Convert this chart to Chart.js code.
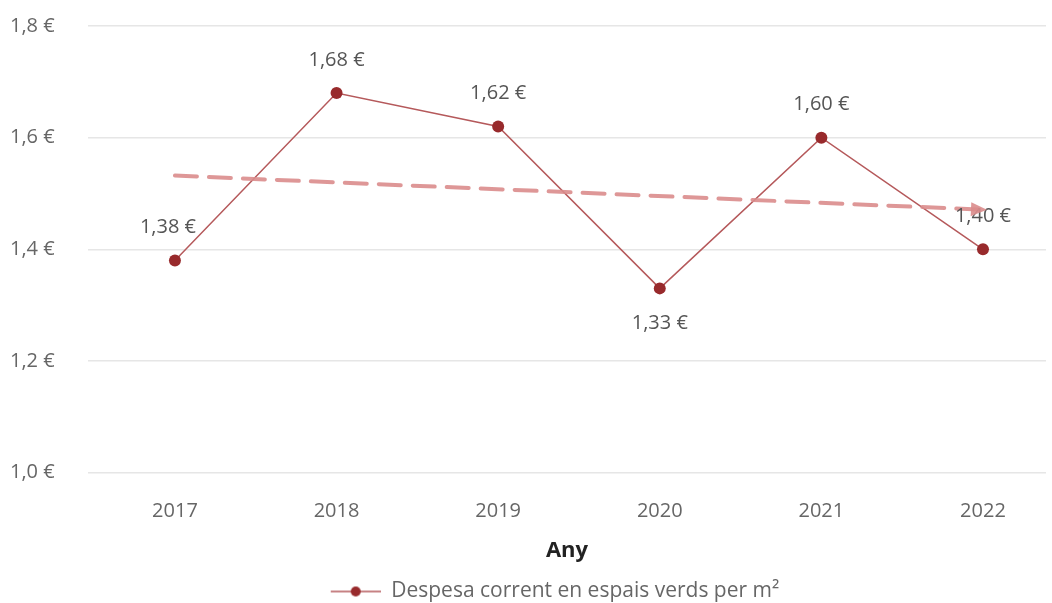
<!DOCTYPE html>
<html>
<head>
<meta charset="utf-8">
<script src="https://cdn.jsdelivr.net/npm/chart.js@4/dist/chart.umd.min.js"></script>
<style>
  html, body { margin: 0; padding: 0; background: #fff; overflow: hidden; }
  canvas { display: block; }
</style>
</head>
<body>
<canvas id="chart" width="1052" height="603"></canvas>
<script>
const years = [2017, 2018, 2019, 2020, 2021, 2022];
const spend = [1.38, 1.68, 1.62, 1.33, 1.60, 1.40];
const trendEnds = [1.532, 1.471];
const yTicks = [1.0, 1.2, 1.4, 1.6, 1.8];
const seriesName = 'Despesa corrent en espais verds per m²';

const lineColor = '#b5595b';
const pointColor = '#982a2c';
const trendColor = 'rgba(218, 140, 140, 0.9)';
const font = '"Open Sans", "Noto Sans", sans-serif';

function euro(v, d) {
  return v.toFixed(d).replace('.', ',') + ' €';
}

// legend marker: line with a dot (left part left blank to shift the item right)
const marker = document.createElement('canvas');
marker.width = 98; marker.height = 12;
(function () {
  const c = marker.getContext('2d');
  c.strokeStyle = lineColor; c.lineWidth = 1.5;
  c.beginPath(); c.moveTo(48, 6); c.lineTo(98, 6); c.stroke();
  c.fillStyle = pointColor;
  c.beginPath(); c.arc(73, 6, 5, 0, Math.PI * 2); c.fill();
})();

const labelPlugin = {
  id: 'valueLabels',
  afterDatasetsDraw(chart) {
    const ctx = chart.ctx;
    const meta = chart.getDatasetMeta(1);
    const minVal = Math.min(...spend);
    ctx.save();
    ctx.font = '20px ' + font;
    ctx.fillStyle = '#555';
    ctx.textAlign = 'center';
    ctx.textBaseline = 'middle';
    meta.data.forEach((pt, i) => {
      const below = spend[i] === minVal;
      ctx.fillText(euro(spend[i], 2), pt.x - (i === 0 ? 7 : 0), below ? pt.y + 35 : pt.y - 33);
    });
    ctx.restore();
  }
};

const arrowPlugin = {
  id: 'trendArrow',
  afterDatasetsDraw(chart) {
    const meta = chart.getDatasetMeta(0);
    const a = meta.data[0], b = meta.data[meta.data.length - 1];
    const ang = Math.atan2(b.y - a.y, b.x - a.x);
    const ctx = chart.ctx;
    ctx.save();
    ctx.translate(b.x, b.y);
    ctx.rotate(ang);
    ctx.fillStyle = trendColor;
    ctx.beginPath();
    ctx.moveTo(4, 0);
    ctx.lineTo(-12, -7);
    ctx.lineTo(-12, 7);
    ctx.closePath();
    ctx.fill();
    ctx.restore();
  }
};

function noSidePadding(s) {
  s.paddingLeft = 0;
  s.paddingRight = 0;
}

new Chart(document.getElementById('chart'), {
  type: 'line',
  data: {
    datasets: [
      {
        label: 'trend',
        data: [{ x: years[0], y: trendEnds[0] }, { x: years[years.length - 1], y: trendEnds[1] }],
        borderColor: trendColor,
        borderWidth: 4,
        borderDash: [22, 12],
        borderCapStyle: 'round',
        pointRadius: 0,
        fill: false
      },
      {
        label: seriesName,
        data: years.map((y, i) => ({ x: y, y: spend[i] })),
        borderColor: lineColor,
        borderWidth: 1.5,
        pointRadius: 6,
        pointBackgroundColor: pointColor,
        pointBorderWidth: 0,
        fill: false,
        tension: 0
      }
    ]
  },
  options: {
    responsive: false,
    animation: false,
    layout: { padding: { left: 10, right: 0, top: 26, bottom: -9 } },
    plugins: {
      tooltip: { enabled: false },
      legend: {
        position: 'bottom',
        labels: {
          filter: item => item.datasetIndex === 1,
          usePointStyle: true,
          pointStyle: marker,
          pointStyleWidth: 98,
          color: '#666',
          font: { family: font, size: 21 },
          padding: 2
        }
      }
    },
    scales: {
      x: {
        type: 'linear',
        min: 2016.462,
        max: 2022.39,
        afterBuildTicks: s => { s.ticks = years.map(v => ({ value: v })); },
        afterFit: noSidePadding,
        grid: { display: false, tickLength: 20 },
        border: { display: false },
        ticks: {
          color: '#666',
          font: { family: font, size: 20 },
          padding: 7,
          callback: v => String(v)
        },
        title: {
          display: true,
          text: 'Any',
          color: '#222',
          font: { family: font, size: 22, weight: 'bold' },
          padding: { top: 7, bottom: 15 }
        }
      },
      y: {
        min: 1.0,
        max: 1.8,
        afterBuildTicks: s => { s.ticks = yTicks.map(v => ({ value: v })); },
        afterFit: s => { s.width = 78; noSidePadding(s); },
        grid: { color: '#e6e6e6', lineWidth: 1.5, drawTicks: false },
        border: { display: false },
        ticks: {
          color: '#666',
          font: { family: font, size: 20 },
          crossAlign: 'far',
          callback: v => euro(v, 1)
        }
      }
    }
  },
  plugins: [labelPlugin, arrowPlugin]
});
</script>
</body>
</html>
